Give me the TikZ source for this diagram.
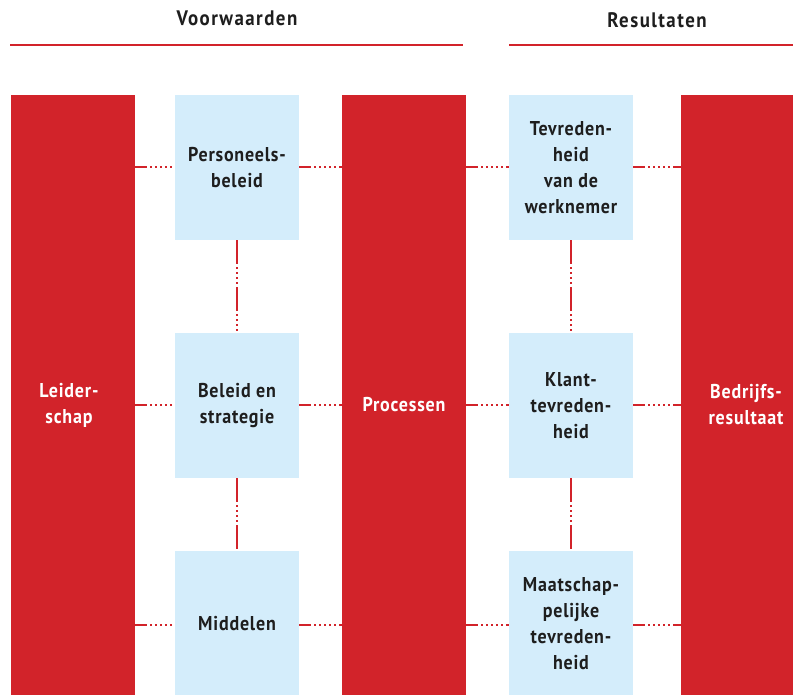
\documentclass[tikz,border=0pt]{standalone}
\usepackage{fontspec}
\setmainfont{PT Sans}[FakeStretch=0.9,LetterSpace=4]
\definecolor{kred}{HTML}{D2232A}
\definecolor{kblue}{HTML}{D4EDFB}
\definecolor{kink}{HTML}{1E1E1E}
\begin{document}
\begin{tikzpicture}[x=1pt,y=-1pt,
  redbox/.style={fill=kred,draw=none,minimum width=124pt,minimum height=600pt,inner sep=0pt},
  bluebox/.style={fill=kblue,draw=none,minimum width=124pt,minimum height=145pt,inner sep=0pt,
    align=center,text=kink,font=\fontsize{20}{26}\selectfont\bfseries},
  redtext/.style={text=white,align=center,font=\fontsize{20}{26}\selectfont\bfseries},
  head/.style={text=kink,font=\fontsize{21}{24}\selectfont\bfseries\addfontfeature{LetterSpace=7}},
  headline/.style={draw=kred,line width=2pt},
  hconn/.style={draw=kred,line width=2.4pt,
    dash pattern=on 12pt off 3pt on 1.8pt off 3.2pt on 1.8pt off 3.2pt on 1.8pt off 3.2pt on 1.8pt off 3.2pt on 1.8pt off 3.2pt},
  vconn/.style={draw=kred,line width=2.4pt,
    dash pattern=on 24pt off 3pt on 1.8pt off 3.2pt on 1.8pt off 3.2pt on 1.8pt off 3.2pt on 1.8pt off 3.2pt}]
\useasboundingbox (0,0) rectangle (793,695);
\begin{scope}
\clip (0,0) rectangle (793,695);

% column headings
\node[head] (hvw) at (237,18) {Voorwaarden};
\node[head] (hres) at (657,20) {Resultaten};
\coordinate (vwl) at (10,45);
\coordinate (vwr) at (463,45);
\coordinate (rsl) at (509,45);
\coordinate (rsr) at (793,45);
\draw[headline] (vwl) -- (vwr);
\draw[headline] (rsl) -- (rsr);

% red columns
\node[redbox] (lead) at (73,395) {};
\node[redbox] (proc) at (404,395) {};
\node[redbox] (bedr) at (743,395) {};
\node[redtext] (leadt) at (69,405) {Leider-\\schap};
\node[redtext] (proct) at (404,405) {Processen};
\node[redtext] (bedrt) at (746,405) {Bedrijfs-\\resultaat};

% light blue boxes
\node[bluebox] (pb) at (237,167.5) {Personeels-\\beleid};
\node[bluebox] (bs) at (237,405.5) {Beleid en\\strategie};
\node[bluebox] (mid) at (237,623.5) {Middelen};
\node[bluebox] (tw) at (571,167.5) {Tevreden-\\heid\\van de\\werknemer};
\node[bluebox] (kt) at (571,405.5) {Klant-\\tevreden-\\heid};
\node[bluebox] (mt) at (571,623.5) {Maatschap-\\pelijke\\tevreden-\\heid};

% horizontal connectors
\foreach \a/\b/\y in {lead/pb/167, pb/proc/167, proc/tw/167, tw/bedr/167,
                      lead/bs/405, bs/proc/405, proc/kt/405, kt/bedr/405,
                      lead/mid/625, mid/proc/625, proc/mt/625, mt/bedr/625}
  \draw[hconn] (\a.east |- 0,\y) -- (\b.west |- 0,\y);

% vertical connectors
\draw[vconn] (pb.south) -- (bs.north);
\draw[vconn] (bs.south) -- (mid.north);
\draw[vconn] (tw.south) -- (kt.north);
\draw[vconn] (kt.south) -- (mt.north);
\end{scope}
\end{tikzpicture}
\end{document}
